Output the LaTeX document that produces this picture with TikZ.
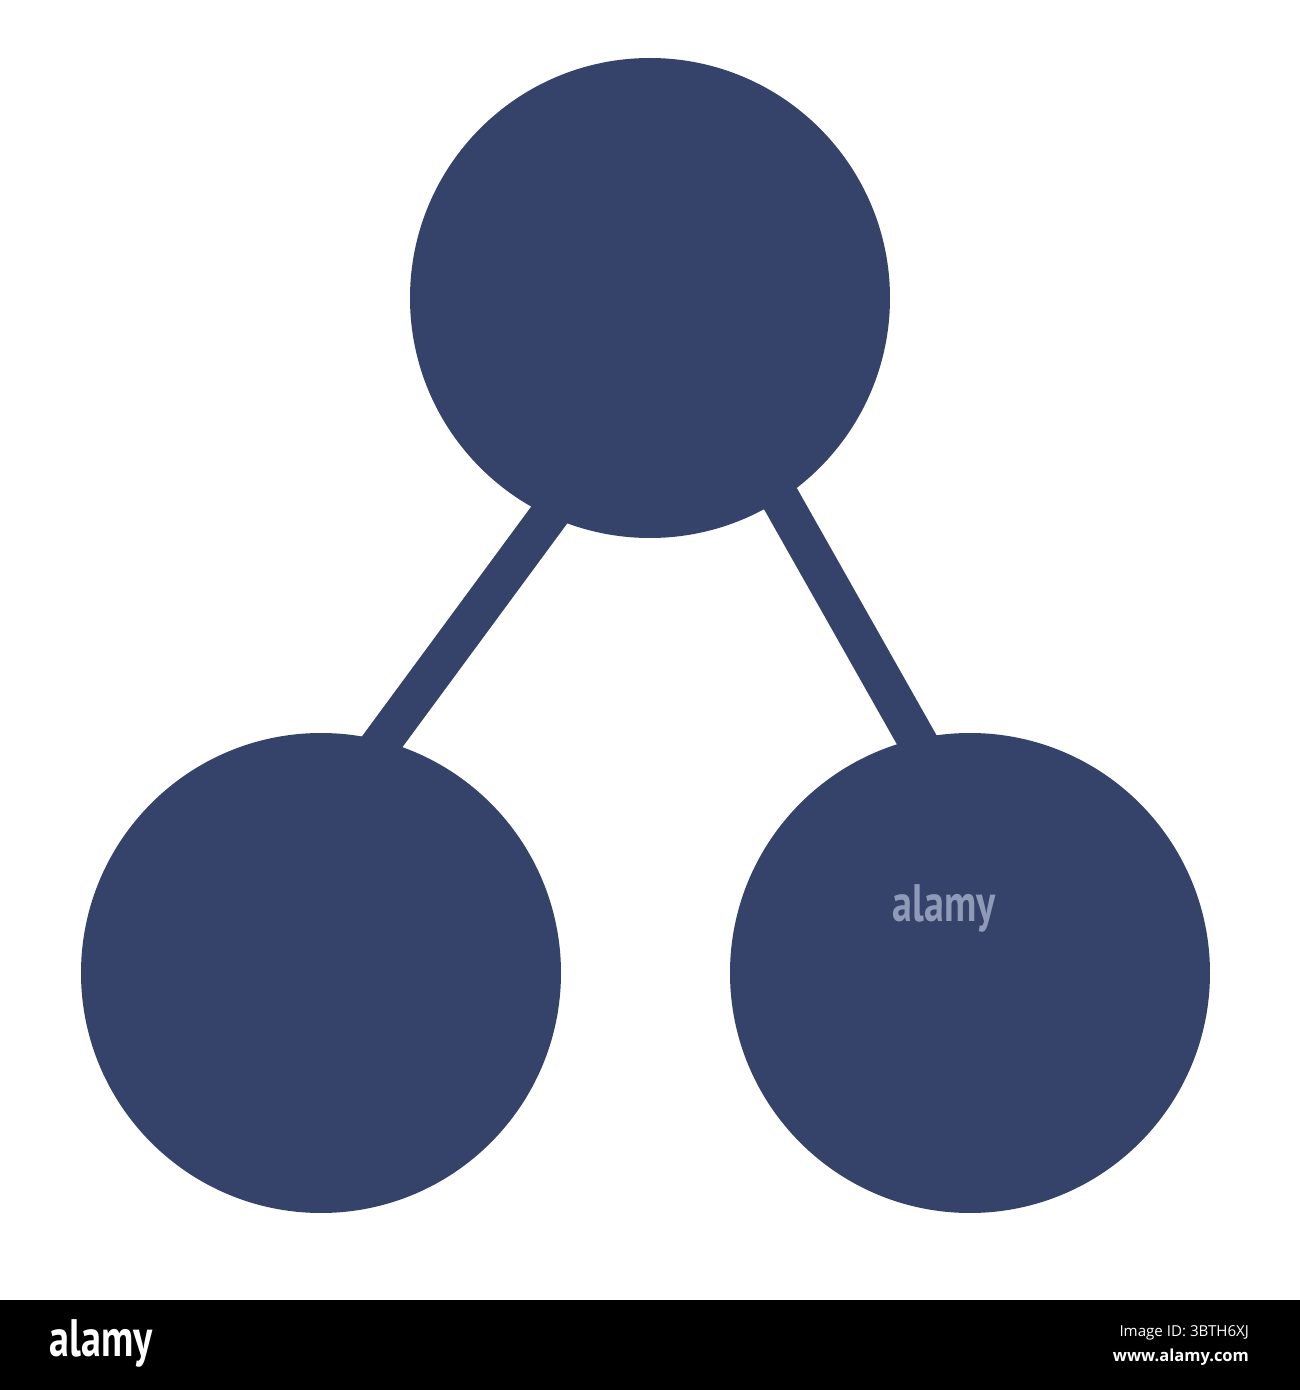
\documentclass[tikz,border=0pt]{standalone}
\usepackage{fontspec}
\usepackage{xcolor}
\usetikzlibrary{positioning,calc}
\newfontfamily\bannerfont{Open Sans}
\newfontfamily\logofont{PT Sans}
\definecolor{navy}{RGB}{53,66,105}
\definecolor{markgrey}{RGB}{143,154,184}

\begin{document}
\begin{tikzpicture}[semithick]
	\tikzstyle{blob} = [circle,fill=navy,draw=none,minimum size=4.8cm,inner sep=0pt]
	\tikzstyle{link} = [navy,line width=0.39cm,shorten <=-8pt,shorten >=-8pt]
	\tikzstyle{logo} = [text=white,font=\logofont\bfseries\fontsize{15}{15}\selectfont,xscale=0.76,inner sep=0pt]
	\tikzstyle{stamp} = [text=white,font=\bannerfont\fontsize{4.3}{5}\selectfont,inner sep=0pt,anchor=east]

	\useasboundingbox (0,0) rectangle (13,13.9);
	\fill[white] (0,0.9) rectangle (13,13.9);

	% the three circles
	\node[blob] (C1) at (6.50,10.92) {};
	\node[blob] (C2) at (3.21,4.17) {};
	\node[blob] (C3) at (9.70,4.17) {};

	\draw[link] (C1.245) -- (C2.75);
	\draw[link] (C1.303) -- (C3.103);

	\node[logo,text=markgrey] (M1) at (9.44,4.82) {alamy};

	% banner
	\fill[black] (0,0) rectangle (13,0.9);
	\node[logo] (L1) at (1.01,0.47) {alamy};
	\node[stamp] (S1) at (12.50,0.57) {Image ID: 3BTH6XJ};
	\node[stamp,font=\bannerfont\bfseries\fontsize{4.7}{5}\selectfont] (S2) [below=0.07cm of S1.south east,anchor=north east] {www.alamy.com};
\end{tikzpicture}
\end{document}
